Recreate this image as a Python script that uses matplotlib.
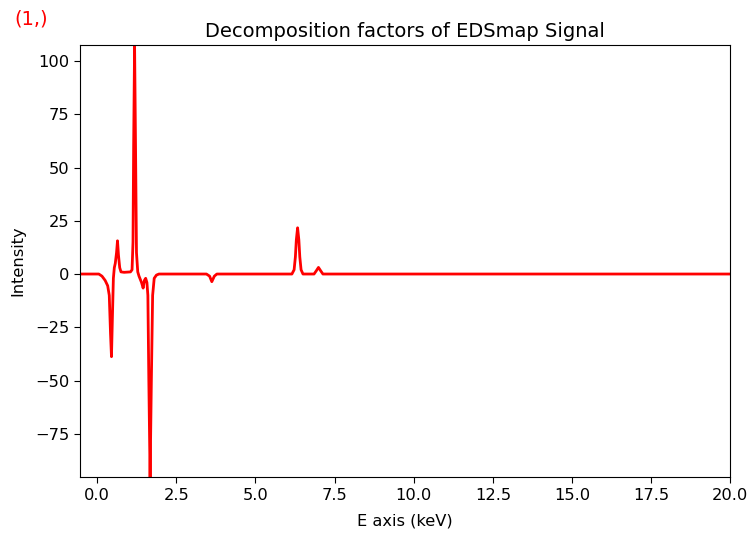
import matplotlib

matplotlib.use("Agg")
import matplotlib.pyplot as plt

# Factor spectrum, sampled at the features of the curve
ENERGY_KEV = [
    -0.54, 0.05, 0.15, 0.25, 0.33, 0.38, 0.42, 0.45, 0.48, 0.51,
    0.54, 0.57, 0.61, 0.64, 0.67, 0.71, 0.75, 0.85, 1.05, 1.10,
    1.13, 1.15, 1.18, 1.21, 1.24, 1.28, 1.32, 1.40, 1.45, 1.49,
    1.53, 1.57, 1.60, 1.63, 1.67, 1.71, 1.75, 1.80, 1.87, 1.95,
    3.45, 3.55, 3.62, 3.70, 3.78, 6.15, 6.22, 6.26, 6.29, 6.33,
    6.37, 6.40, 6.44, 6.50, 6.85, 6.92, 6.99, 7.06, 7.13, 20.0,
]
INTENSITY = [
    0.0, 0.0, -1.0, -3.0, -5.5, -10.0, -28.0, -38.8, -20.0, -2.0,
    3.0, 5.0, 10.0, 15.6, 9.0, 3.0, 1.0, 0.8, 1.0, 2.0,
    15.0, 60.0, 107.5, 60.0, 10.0, 1.0, -1.0, -4.0, -6.6, -3.0,
    -2.0, -4.0, -10.0, -50.0, -95.3, -50.0, -10.0, -2.0, -0.5, 0.0,
    0.0, -1.0, -3.6, -1.0, 0.0, 0.0, 2.0, 8.0, 16.0, 21.7,
    16.0, 8.0, 2.0, 0.0, 0.0, 1.5, 3.1, 1.5, 0.0, 0.0,
]
X_TICKS = [0.0, 2.5, 5.0, 7.5, 10.0, 12.5, 15.0, 17.5, 20.0]
Y_TICKS = [-75, -50, -25, 0, 25, 50, 75, 100]

plt.rcParams["font.size"] = 11.7
plt.rcParams["xtick.major.size"] = 4.1
plt.rcParams["ytick.major.size"] = 4.1

fig = plt.figure(figsize=(7.49, 5.36), dpi=100)
ax = fig.add_axes([0.107, 0.110, 0.868, 0.806])

ax.plot(ENERGY_KEV, INTENSITY, color="red", linewidth=2.0)
ax.set_xlim(min(ENERGY_KEV), max(ENERGY_KEV))
ax.set_ylim(min(INTENSITY), max(INTENSITY))
ax.set_xticks(X_TICKS)
ax.set_xticklabels([f"{t:.1f}" for t in X_TICKS])
ax.set_yticks(Y_TICKS)

ax.set_title("Decomposition factors of EDSmap Signal", fontsize=14)
ax.set_xlabel("E axis (keV)", labelpad=8)
ax.set_ylabel("Intensity", labelpad=7)

fig.text(0.019, 0.965, "(1,)", color="red", fontsize=14, ha="left", va="center")

fig.savefig("out.png", dpi=100)
